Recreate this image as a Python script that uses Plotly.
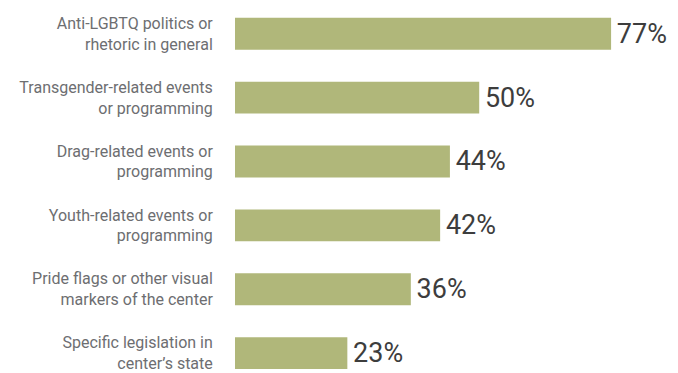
import plotly.graph_objects as go

# Reasons cited, top to bottom
reasons = [
    "Anti-LGBTQ politics or<br>rhetoric in general",
    "Transgender-related events<br>or programming",
    "Drag-related events or<br>programming",
    "Youth-related events or<br>programming",
    "Pride flags or other visual<br>markers of the center",
    "Specific legislation in<br>center’s state",
]
shares = [77, 50, 44, 42, 36, 23]

BAR_COLOR = "#b0b77a"
LABEL_COLOR = "#6d6e71"
VALUE_COLOR = "#3d3d3d"
FONT = "Roboto, Arial, sans-serif"

fig = go.Figure(
    go.Bar(
        x=shares,
        y=reasons,
        orientation="h",
        marker=dict(color=BAR_COLOR, line=dict(width=0)),
        # hair space keeps the value a few pixels clear of the bar end
        text=[f"\u200a{v}%" for v in shares],
        textposition="outside",
        textfont=dict(family=FONT, size=27, color=VALUE_COLOR),
        cliponaxis=False,
        hoverinfo="skip",
    )
)

fig.update_layout(
    width=678,
    height=373,
    margin=dict(l=235, r=0, t=0, b=0),
    paper_bgcolor="white",
    plot_bgcolor="white",
    bargap=0.5,
    showlegend=False,
    font=dict(family=FONT),
)
fig.update_xaxes(
    range=[0, 90.7],
    visible=False,
    showgrid=False,
    zeroline=False,
)
fig.update_yaxes(
    range=[5.264, -0.528],
    showgrid=False,
    zeroline=False,
    showline=False,
    ticks="outside",
    ticklen=18,
    tickcolor="rgba(0,0,0,0)",
    tickfont=dict(family=FONT, size=16, color=LABEL_COLOR),
)

fig.write_html("out.html")
